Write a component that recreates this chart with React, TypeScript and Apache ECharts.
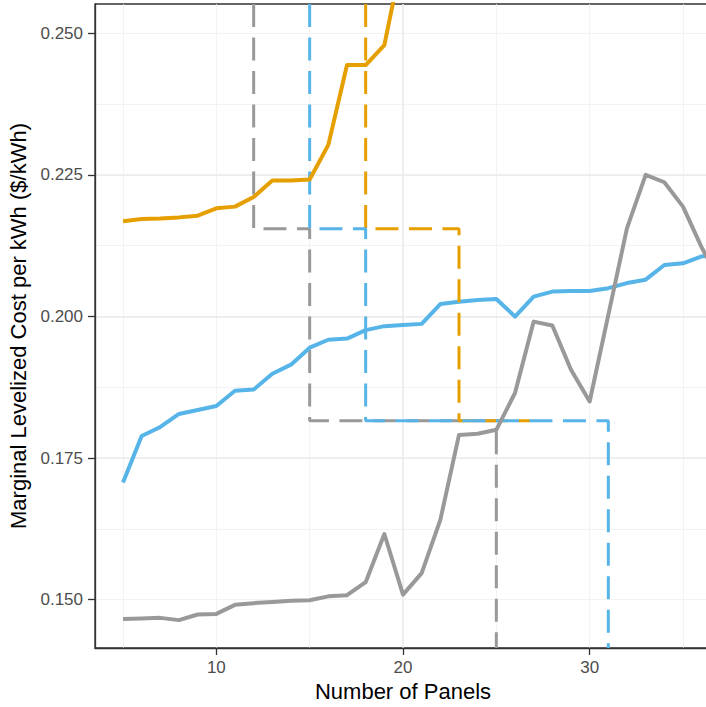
import React, { useEffect, useRef } from "react";
import * as echarts from "echarts";

// ---- data ----
const panels = [5, 6, 7, 8, 9, 10, 11, 12, 13, 14, 15, 16, 17, 18, 19, 20, 21, 22, 23, 24, 25, 26, 27, 28, 29, 30, 31, 32, 33, 34, 35, 36, 37];
const grayCost = [0.1466, 0.1467, 0.1468, 0.1464, 0.1474, 0.1475, 0.1491, 0.1494, 0.1496, 0.1498, 0.1499, 0.1506, 0.1508, 0.1531, 0.1616, 0.1509, 0.1547, 0.1641, 0.1791, 0.1793, 0.18, 0.1865, 0.1991, 0.1984, 0.1906, 0.185, 0.2003, 0.2156, 0.225, 0.2237, 0.2194, 0.2122, 0.206];
const blueCost = [0.1707, 0.1789, 0.1805, 0.1828, 0.1835, 0.1842, 0.1869, 0.1871, 0.1899, 0.1915, 0.1945, 0.1959, 0.1961, 0.1976, 0.1983, 0.1985, 0.1987, 0.2022, 0.2026, 0.2029, 0.2031, 0.2, 0.2035, 0.2044, 0.2045, 0.2045, 0.205, 0.2059, 0.2065, 0.2091, 0.2094, 0.2106, 0.2112];
const orangePanels = [5, 6, 7, 8, 9, 10, 11, 12, 13, 14, 15, 16, 17, 18, 19, 20];
const orangeCost = [0.2168, 0.2172, 0.2173, 0.2175, 0.2178, 0.2191, 0.2194, 0.2211, 0.224, 0.224, 0.2242, 0.2303, 0.2444, 0.2444, 0.2479, 0.264];

const X_MIN = 3.5;
const X_MAX = 36.5;
const Y_MIN = 0.14148;
const Y_MAX = 0.25517;
const LEVEL_HIGH = 0.2155;
const LEVEL_LOW = 0.1816;

// dashed step paths [x, y]
const grayStep = [[12, Y_MAX], [12, LEVEL_HIGH], [15, LEVEL_HIGH], [15, LEVEL_LOW], [25, LEVEL_LOW], [25, Y_MIN]];
const blueStep = [[15, Y_MAX], [15, LEVEL_HIGH], [18, LEVEL_HIGH], [18, LEVEL_LOW], [31, LEVEL_LOW], [31, Y_MIN]];
const orangeStep = [[18, Y_MAX], [18, LEVEL_HIGH], [23, LEVEL_HIGH], [23, LEVEL_LOW], [26.8, LEVEL_LOW]];

const xMajor = [10, 20, 30];
const yMajor = [0.15, 0.175, 0.2, 0.225, 0.25];

const GRAY = "#999999";
const BLUE = "#56B4E9";
const ORANGE = "#E69F00";
const FONT = "Liberation Sans, Arial, sans-serif";

export default function App() {
  const ref = useRef<HTMLDivElement>(null);
  useEffect(() => {
    if (!ref.current) return;
    const chart = echarts.init(ref.current, null, { renderer: "svg" });
    const dash = [23, 10.5];
    const solid = (data: number[], xs: number[], color: string) => ({
      type: "line",
      data: xs.map((x, i) => [x, data[i]]),
      showSymbol: false,
      symbol: "none",
      lineStyle: { color, width: 4, cap: "butt", join: "round" },
      itemStyle: { color },
      silent: true,
      clip: true,
    });
    const dashed = (path: number[][], color: string) => ({
      type: "line",
      data: path,
      showSymbol: false,
      symbol: "none",
      lineStyle: { color, width: 3, type: dash, cap: "butt" },
      itemStyle: { color },
      silent: true,
      clip: true,
    });
    const minorColor = "#F0F0F0";
    const majorColor = "#EBEBEB";
    chart.setOption({
      animation: false,
      backgroundColor: "#ffffff",
      textStyle: { fontFamily: FONT },
      grid: {
        left: 95,
        top: 4,
        right: -5,
        bottom: 59,
        show: true,
        borderColor: "#333333",
        borderWidth: 1.3,
        backgroundColor: "transparent",
        outerBoundsMode: "none",
        containLabel: false,
      },
      xAxis: [
        {
          type: "value",
          min: X_MIN,
          max: X_MAX,
          minInterval: 10,
          maxInterval: 10,
          name: "Number of Panels",
          nameLocation: "middle",
          nameGap: 31,
          nameTextStyle: { fontSize: 22, color: "#000000", fontFamily: FONT },
          axisLine: { show: true, onZero: false, lineStyle: { color: "#333333", width: 1.3 } },
          axisTick: { show: true, length: 7, customValues: xMajor, lineStyle: { color: "#333333", width: 1.3 } },
          axisLabel: {
            show: true,
            customValues: xMajor,
            margin: 11,
            fontSize: 17,
            color: "#4D4D4D",
            fontFamily: FONT,
          },
          splitLine: { show: true, showMinLine: false, showMaxLine: false, lineStyle: { color: majorColor, width: 1.5 } },
          z: 1,
        },
        {
          type: "value",
          position: "top",
          min: X_MIN,
          max: X_MAX,
          minInterval: 5,
          maxInterval: 5,
          axisLine: { show: false },
          axisTick: { show: false },
          axisLabel: { show: false },
          splitLine: { show: true, showMinLine: false, showMaxLine: false, lineStyle: { color: minorColor, width: 0.8 } },
          z: 0,
        },
      ],
      yAxis: [
        {
          type: "value",
          min: Y_MIN,
          max: Y_MAX,
          minInterval: 0.025,
          maxInterval: 0.025,
          name: "Marginal Levelized Cost per kWh ($/kWh)",
          nameLocation: "middle",
          nameRotate: 90,
          nameGap: 57,
          nameTextStyle: { fontSize: 22, color: "#000000", fontFamily: FONT },
          axisLine: { show: true, onZero: false, lineStyle: { color: "#333333", width: 1.3 } },
          axisTick: { show: true, length: 7, customValues: yMajor, lineStyle: { color: "#333333", width: 1.3 } },
          axisLabel: {
            show: true,
            customValues: yMajor,
            margin: 12,
            fontSize: 17,
            color: "#4D4D4D",
            fontFamily: FONT,
            formatter: (v: number) => v.toFixed(3),
          },
          splitLine: { show: true, showMinLine: false, showMaxLine: false, lineStyle: { color: majorColor, width: 1.5 } },
          z: 1,
        },
        {
          type: "value",
          position: "right",
          min: Y_MIN,
          max: Y_MAX,
          minInterval: 0.0125,
          maxInterval: 0.0125,
          axisLine: { show: false },
          axisTick: { show: false },
          axisLabel: { show: false },
          splitLine: { show: true, showMinLine: false, showMaxLine: false, lineStyle: { color: minorColor, width: 0.8 } },
          z: 0,
        },
      ],
      series: [
        dashed(grayStep, GRAY),
        solid(blueCost, panels, BLUE),
        dashed(orangeStep, ORANGE),
        dashed(blueStep, BLUE),
        solid(grayCost, panels, GRAY),
        solid(orangeCost, orangePanels, ORANGE),
      ],
    });
    return () => chart.dispose();
  }, []);
  return (
    <div
      ref={ref}
      style={{ position: "fixed", left: 0, top: 0, width: 706, height: 707, background: "#fff" }}
    />
  );
}
